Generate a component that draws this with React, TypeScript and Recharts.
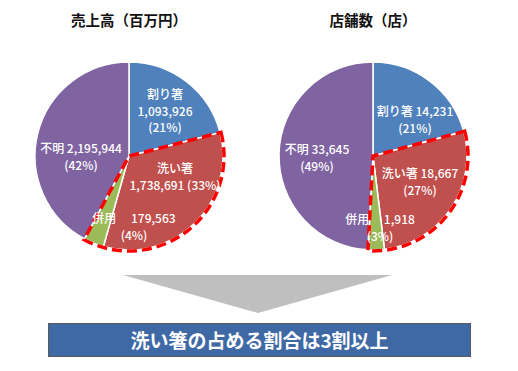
import React from 'react';
import { PieChart, Pie, Cell } from 'recharts';

const CATEGORIES = ['割り箸', '洗い箸', '併用', '不明'];
const SALES = [1093926, 1738691, 179563, 2195944];
const STORES = [14231, 18667, 1918, 33645];
const SALES_PCT = ['21%', '33%', '4%', '42%'];
const STORES_PCT = ['21%', '27%', '3%', '49%'];
const TITLES = ['売上高（百万円）', '店舗数（店）'];
const CONCLUSION = '洗い箸の占める割合は3割以上';

const COLORS = ['#4F81BD', '#C0504D', '#9BBB59', '#8064A2'];
const FONT = '"Noto Sans CJK JP", "Noto Sans", sans-serif';
const R = 94;
// chart margin is 5px, so centres are given relative to it
const LEFT_CX = 124;
const RIGHT_CX = 368;
const CY = 151;

const fmt = (v: number) => v.toLocaleString('en-US');

// 洗い箸 + 併用 grouped for the dashed outline
const grouped = (vals: number[]) => [
  { name: 'a', value: vals[0] },
  { name: 'b', value: vals[1] + vals[2] },
  { name: 'c', value: vals[3] },
];

const salesData = CATEGORIES.map((name, i) => ({ name, value: SALES[i] }));
const storesData = CATEGORIES.map((name, i) => ({ name, value: STORES[i] }));

const salesLines = CATEGORIES.map((n, i) => {
  const v = fmt(SALES[i]);
  const p = `(${SALES_PCT[i]})`;
  if (i === 0) return [n, v, p];
  if (i === 1) return [n, `${v} ${p}`];
  if (i === 2) return [`${n}　 ${v}`, p];
  return [`${n} ${v}`, p];
});
const storesLines = CATEGORIES.map((n, i) => {
  const v = fmt(STORES[i]);
  const p = `(${STORES_PCT[i]})`;
  if (i === 2) return [`${n}　  ${v}`, p];
  return [`${n} ${v}`, p];
});

// label anchor offsets from the pie centre (first line)
const SALES_POS = [[36, -63], [46, 11], [5, 61], [-48, -9]];
const STORES_POS = [[42, -46], [47, 16], [7, 62], [-56, -8]];

const makeLabel = (lines: string[][], pos: number[][]) => (props: any) => {
  const { cx, cy, index } = props;
  const [dx, dy] = pos[index];
  return (
    <text
      key={`l-${index}`}
      x={cx + dx}
      y={cy + dy}
      fill="#fff"
      textAnchor="middle"
      dominantBaseline="central"
      fontSize={12}
      fontFamily={FONT}
      fontWeight={500}
    >
      {lines[index].map((t, k) => (
        <tspan key={k} x={cx + dx} dy={k === 0 ? 0 : 16.5}>
          {t}
        </tspan>
      ))}
    </text>
  );
};

const outlineCells = [0, 1, 2].map((i) =>
  i === 1 ? (
    <Cell key={i} fill="none" stroke="#FF0000" strokeWidth={3.5} strokeDasharray="10 5" />
  ) : (
    <Cell key={i} fill="none" stroke="none" />
  )
);

export default function App() {
  return (
    <div style={{ position: 'absolute', left: 0, top: 0, width: 518, height: 371, background: '#fff', fontFamily: FONT }}>
      {TITLES.map((t, i) => (
        <div
          key={t}
          style={{
            position: 'absolute',
            left: i === 0 ? 129 - 80 : 373 - 80,
            width: 160,
            top: 10,
            textAlign: 'center',
            fontSize: 14.5,
            fontWeight: 700,
            color: '#111',
            lineHeight: '20px',
          }}
        >
          {t}
        </div>
      ))}
      <div style={{ position: 'absolute', left: 0, top: 0 }}>
        <PieChart width={518} height={300}>
          <Pie
            data={salesData}
            dataKey="value"
            cx={LEFT_CX}
            cy={CY}
            outerRadius={R}
            startAngle={90}
            endAngle={-270}
            stroke="#fff"
            strokeWidth={1.5}
            labelLine={false}
            label={makeLabel(salesLines, SALES_POS)}
            isAnimationActive={false}
          >
            {salesData.map((d, i) => (
              <Cell key={d.name} fill={COLORS[i]} />
            ))}
          </Pie>
          <Pie
            data={grouped(SALES)}
            dataKey="value"
            cx={LEFT_CX}
            cy={CY}
            outerRadius={R + 1}
            startAngle={90}
            endAngle={-270}
            isAnimationActive={false}
          >
            {outlineCells}
          </Pie>
          <Pie
            data={storesData}
            dataKey="value"
            cx={RIGHT_CX}
            cy={CY}
            outerRadius={R}
            startAngle={90}
            endAngle={-270}
            stroke="#fff"
            strokeWidth={1.5}
            labelLine={false}
            label={makeLabel(storesLines, STORES_POS)}
            isAnimationActive={false}
          >
            {storesData.map((d, i) => (
              <Cell key={d.name} fill={COLORS[i]} />
            ))}
          </Pie>
          <Pie
            data={grouped(STORES)}
            dataKey="value"
            cx={RIGHT_CX}
            cy={CY}
            outerRadius={R + 1}
            startAngle={90}
            endAngle={-270}
            isAnimationActive={false}
          >
            {outlineCells}
          </Pie>
        </PieChart>
      </div>
      <svg style={{ position: 'absolute', left: 0, top: 0 }} width={518} height={371}>
        <polygon points="123,275 392,275 258,313" fill="#BFBFBF" />
      </svg>
      <div
        style={{
          position: 'absolute',
          left: 48,
          top: 323,
          width: 421,
          height: 32,
          background: '#3E69A5',
          border: '1px solid #5A5A5A',
          color: '#fff',
          fontSize: 19,
          fontWeight: 700,
          textAlign: 'center',
          lineHeight: '32px',
        }}
      >
        {CONCLUSION}
      </div>
    </div>
  );
}
